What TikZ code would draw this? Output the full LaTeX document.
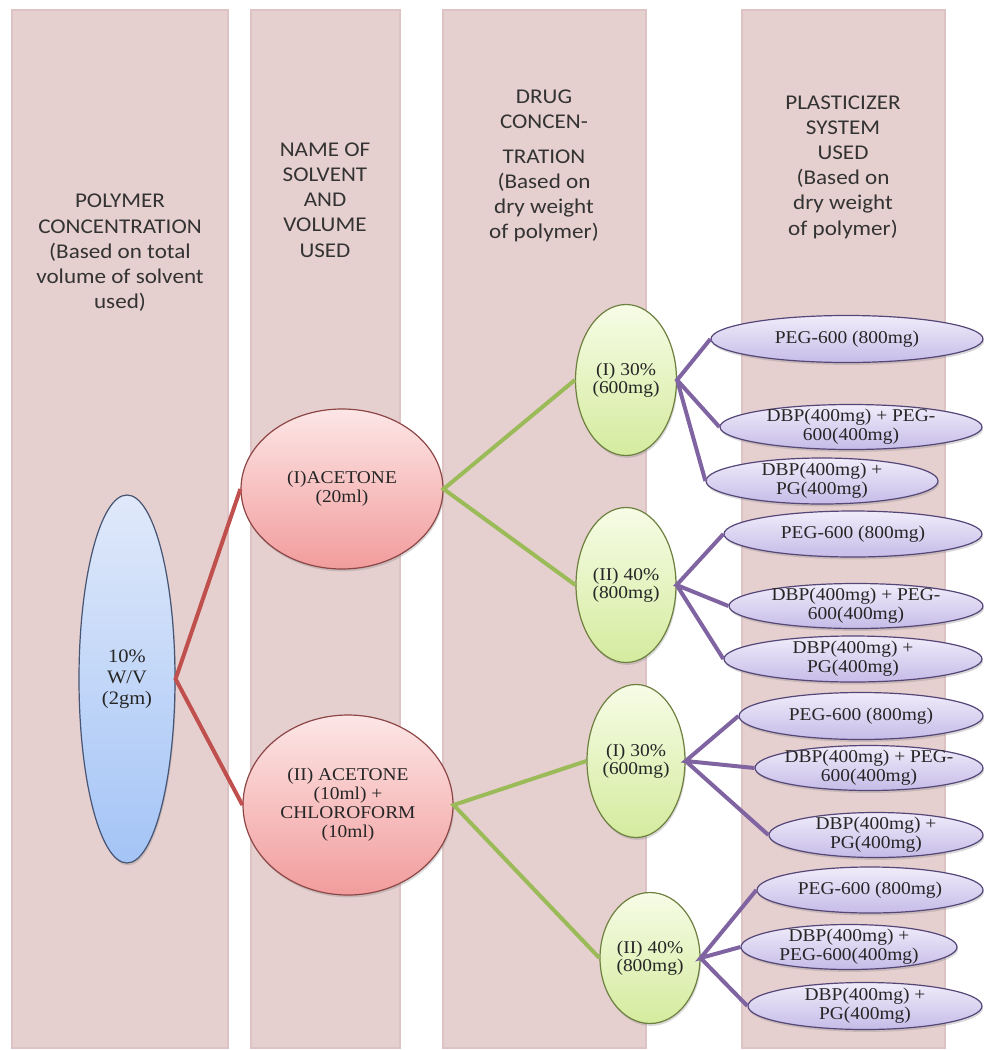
\documentclass[tikz,border=0pt]{standalone}
\usepackage{fontspec}
\setmainfont{Liberation Serif}[FakeStretch=1.08]
\newfontfamily\headfont{Carlito}[FakeStretch=1.1]
\usetikzlibrary{
  	shapes,
		shadows
  }
\definecolor{colbg}{RGB}{230,207,207}
\definecolor{colrim}{RGB}{221,195,195}
\definecolor{headtxt}{RGB}{51,51,51}
\definecolor{bluetop}{RGB}{224,233,250}
\definecolor{bluebot}{RGB}{164,196,246}
\definecolor{blueln}{RGB}{70,85,115}
\definecolor{redtop}{RGB}{253,230,230}
\definecolor{redbot}{RGB}{242,156,156}
\definecolor{redln}{RGB}{140,70,70}
\definecolor{greentop}{RGB}{247,252,230}
\definecolor{greenbot}{RGB}{212,235,158}
\definecolor{greenln}{RGB}{110,128,64}
\definecolor{purptop}{RGB}{240,236,250}
\definecolor{purpbot}{RGB}{198,188,232}
\definecolor{purpln}{RGB}{85,70,120}
\definecolor{redlink}{RGB}{192,80,77}
\definecolor{greenlink}{RGB}{155,187,89}
\definecolor{purplink}{RGB}{128,100,162}
\begin{document}
\begin{tikzpicture}[x=.5pt, y=-.5pt,
  sz/.style 2 args={minimum width=#1*.5pt, minimum height=#2*.5pt},
  bubble/.style={ellipse, draw, line width=.6pt, inner sep=0pt,
    drop shadow={shadow xshift=.5pt, shadow yshift=-1.2pt, opacity=.3}},
  pol/.style={bubble, draw=blueln, top color=bluetop, bottom color=bluebot},
  sol/.style={bubble, draw=redln, top color=redtop, bottom color=redbot},
  drug/.style={bubble, draw=greenln, top color=greentop, bottom color=greenbot},
  plas/.style={bubble, draw=purpln, top color=purptop, bottom color=purpbot},
  head/.style={align=center, text=headtxt, font=\headfont\fontsize{10.5}{12.6}\selectfont},
  every label/.style={align=center, inner sep=0pt, text=black!85, font=\fontsize{9}{9.5}\selectfont},
  tight/.style={font=\fontsize{9}{7.8}\selectfont},
  link/.style={line width=2pt}]
	\useasboundingbox (0,0) rectangle (984,1050);
	\foreach \l/\r in {12/228, 251/400, 443/646, 742/945}
		\filldraw[fill=colbg, draw=colrim, line width=1pt] (\l,10) rectangle (\r,1048);
%
	\node[head] (Hpol) at (120,253) {POLYMER\\CONCENTRATION\\(Based on total\\volume of solvent\\used)};
	\node[head] (Hsol) at (325,200) {NAME OF\\SOLVENT\\AND\\VOLUME\\USED};
	\node[head] (Hdrug) at (544,166) {DRUG\\CONCEN-\\[4.5pt]TRATION\\(Based on\\dry weight\\of polymer)};
	\node[head] (Hplas) at (843,167) {PLASTICIZER\\SYSTEM\\USED\\(Based on\\dry weight\\of polymer)};
%
	\node[pol, sz={96}{368}, label={[font=\fontsize{9.5}{10.5}\selectfont]center:10\%\\W/V\\(2gm)}] (Pol) at (127,679) {};
%
	\node[sol, sz={202}{160}, label={center:(I)ACETONE\\(20ml)}] (Sa) at (342,489) {};
	\node[sol, sz={210}{180}, label={center:(II) ACETONE\\(10ml) +\\CHLOROFORM\\(10ml)}] (Sb) at (348,805) {};
%
	\node[drug, sz={101}{151}, label={[tight]center:(I) 30\%\\(600mg)}] (Daa) at (626,380) {};
	\node[drug, sz={100}{155}, label={[tight]center:(II) 40\%\\(800mg)}] (Dab) at (626,585) {};
	\node[drug, sz={98}{153}, label={[tight]center:(I) 30\%\\(600mg)}] (Dba) at (636,761) {};
	\node[drug, sz={100}{131}, label={[tight]center:(II) 40\%\\(800mg)}] (Dbb) at (650,958) {};
%
	\node[plas, sz={272}{47}, label={center:PEG-600 (800mg)}] (Pl1) at (847,339) {};
	\node[plas, sz={262}{45}, label={center:DBP(400mg) + PEG-\\600(400mg)}] (Pl2) at (851,427) {};
	\node[plas, sz={232}{46}, label={center:DBP(400mg) +\\PG(400mg)}] (Pl3) at (822,481) {};
%
	\node[plas, sz={258}{46}, label={center:PEG-600 (800mg)}] (Pl4) at (853,534) {};
	\node[plas, sz={254}{45}, label={center:DBP(400mg) + PEG-\\600(400mg)}] (Pl5) at (856,606) {};
	\node[plas, sz={258}{46}, label={center:DBP(400mg) +\\PG(400mg)}] (Pl6) at (853,659) {};
%
	\node[plas, sz={244}{47}, label={center:PEG-600 (800mg)}] (Pl7) at (861,716) {};
	\node[plas, sz={228}{45}, label={center:DBP(400mg) + PEG-\\600(400mg)}] (Pl8) at (869,768) {};
	\node[plas, sz={214}{45}, label={center:DBP(400mg) +\\PG(400mg)}] (Pl9) at (876,835) {};
%
	\node[plas, sz={226}{46}, label={center:PEG-600 (800mg)}] (Pl10) at (870,890) {};
	\node[plas, sz={216}{45}, label={center:DBP(400mg) +\\PEG-600(400mg)}] (Pl11) at (849,947) {};
	\node[plas, sz={234}{47}, label={center:DBP(400mg) +\\PG(400mg)}] (Pl12) at (865,1006) {};
%
	\draw[link, redlink] (Sa.west) -- (Pol.east) -- (Sb.west);
	\draw[link, greenlink] (Daa.west) -- (Sa.east) -- (Dab.west);
	\draw[link, greenlink] (Dba.west) -- (Sb.east) -- (Dbb.west);
	\draw[link, purplink] (Pl1.west) -- (Daa.east) -- (Pl2.west) (Daa.east) -- (Pl3.west);
	\draw[link, purplink] (Pl4.west) -- (Dab.east) -- (Pl5.west) (Dab.east) -- (Pl6.west);
	\draw[link, purplink] (Pl7.west) -- (Dba.east) -- (Pl8.west) (Dba.east) -- (Pl9.west);
	\draw[link, purplink] (Pl10.west) -- (Dbb.east) -- (Pl11.west) (Dbb.east) -- (Pl12.west);
\end{tikzpicture}
\end{document}
